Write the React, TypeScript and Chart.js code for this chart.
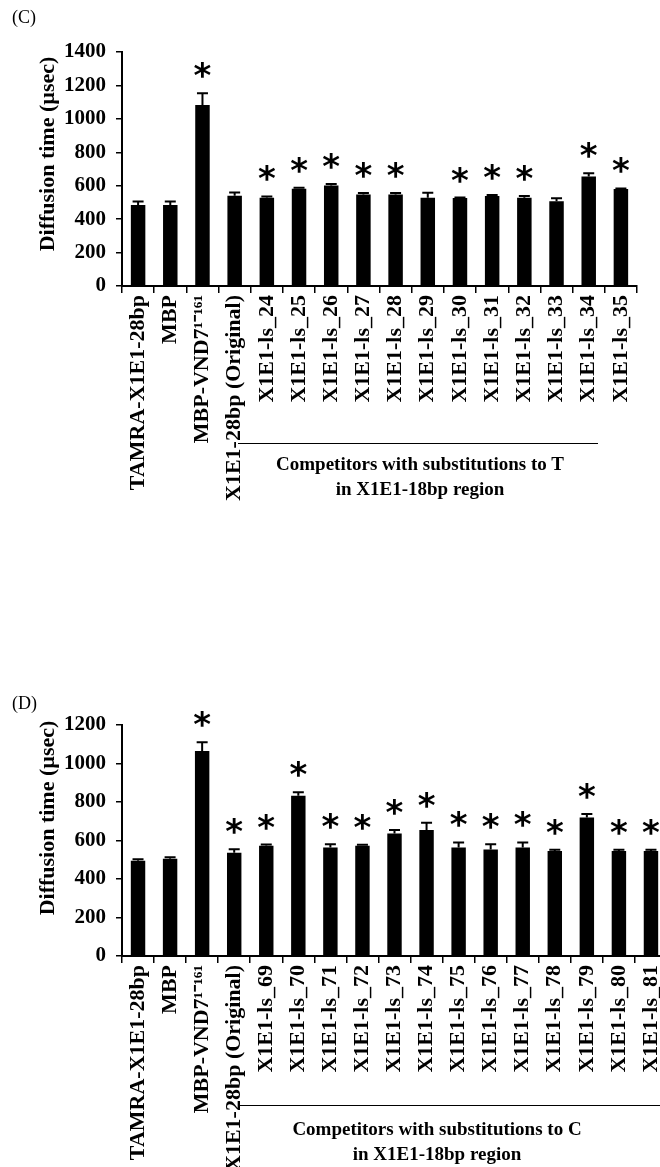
import React, { useEffect, useRef } from "react";
import { Chart, registerables } from "chart.js";

Chart.register(...registerables);

// ---------- Panel C data ----------
const categoriesC = [
  "TAMRA-X1E1-28bp",
  "MBP",
  "MBP-VND7¹⁻¹⁶¹",
  "X1E1-28bp (Original)",
  "X1E1-ls_24",
  "X1E1-ls_25",
  "X1E1-ls_26",
  "X1E1-ls_27",
  "X1E1-ls_28",
  "X1E1-ls_29",
  "X1E1-ls_30",
  "X1E1-ls_31",
  "X1E1-ls_32",
  "X1E1-ls_33",
  "X1E1-ls_34",
  "X1E1-ls_35",
];
const valuesC = [485, 485, 1083, 540, 528, 582, 602, 548, 548, 528, 526, 538, 528, 507, 655, 580];
const errorsC = [20, 20, 70, 20, 8, 6, 8, 8, 8, 30, 3, 7, 10, 18, 20, 4];
const starsC = [false, false, true, false, true, true, true, true, true, false, true, true, true, false, true, true];
const yMaxC = 1400;

// ---------- Panel D data ----------
const categoriesD = [
  "TAMRA-X1E1-28bp",
  "MBP",
  "MBP-VND7¹⁻¹⁶¹",
  "X1E1-28bp (Original)",
  "X1E1-ls_69",
  "X1E1-ls_70",
  "X1E1-ls_71",
  "X1E1-ls_72",
  "X1E1-ls_73",
  "X1E1-ls_74",
  "X1E1-ls_75",
  "X1E1-ls_76",
  "X1E1-ls_77",
  "X1E1-ls_78",
  "X1E1-ls_79",
  "X1E1-ls_80",
  "X1E1-ls_81",
];
const valuesD = [495, 505, 1065, 537, 573, 833, 563, 573, 637, 655, 563, 553, 563, 545, 720, 545, 545];
const errorsD = [8, 8, 45, 17, 6, 18, 17, 5, 18, 37, 27, 27, 27, 7, 18, 7, 7];
const starsD = [false, false, true, true, true, true, true, true, true, true, true, true, true, true, true, true, true];
const yMaxD = 1200;

const yStep = 200;
const yTitle = "Diffusion time (µsec)";
const groupTextC = ["Competitors with substitutions to T", "in X1E1-18bp region"];
const groupTextD = ["Competitors with substitutions to C", "in X1E1-18bp region"];

const SERIF = "'Liberation Serif', 'Times New Roman', serif";

type PanelProps = {
  labels: string[];
  values: number[];
  errors: number[];
  stars: boolean[];
  yMax: number;
  top: number;
  width: number;
  height: number;
  chartTop: number;
  chartBottom: number;
  chartRight: number;
  titleCenterY: number;
};

function BarPanel(p: PanelProps) {
  const ref = useRef<HTMLCanvasElement>(null);
  useEffect(() => {
    const canvas = ref.current!;
    const xAxisH = 222;
    const overlay = {
      id: "overlay",
      afterDatasetsDraw(chart: any) {
        const ctx = chart.ctx;
        const meta = chart.getDatasetMeta(0);
        const ys = chart.scales.y;
        ctx.save();
        ctx.strokeStyle = "#000";
        ctx.fillStyle = "#000";
        ctx.lineWidth = 2;
        p.values.forEach((v, i) => {
          const el = meta.data[i];
          const x = el.x;
          const yb = ys.getPixelForValue(v);
          const yt = ys.getPixelForValue(v + p.errors[i]);
          ctx.beginPath();
          ctx.moveTo(x, yb);
          ctx.lineTo(x, yt);
          ctx.moveTo(x - 5.5, yt);
          ctx.lineTo(x + 5.5, yt);
          ctx.stroke();
          if (p.stars[i]) {
            ctx.font = "bold 34px 'DejaVu Sans', sans-serif";
            ctx.textAlign = "center";
            ctx.textBaseline = "alphabetic";
            ctx.fillText("*", x, yt - 6);
          }
        });
        // y-axis title
        ctx.translate(48.5, p.titleCenterY);
        ctx.rotate(-Math.PI / 2);
        ctx.font = `bold 22px ${SERIF}`;
        ctx.textAlign = "center";
        ctx.textBaseline = "middle";
        ctx.fillText(yTitle, 0, 0);
        ctx.restore();
      },
    };
    const chart = new Chart(canvas, {
      type: "bar",
      data: {
        labels: p.labels,
        datasets: [
          {
            data: p.values,
            backgroundColor: "#000",
            borderWidth: 0,
            barPercentage: 0.45,
            categoryPercentage: 1,
          },
        ],
      },
      options: {
        responsive: false,
        animation: false,
        devicePixelRatio: 1,
        layout: {
          padding: {
            top: p.chartTop,
            left: 0,
            right: p.width - p.chartRight,
            bottom: p.height - p.chartBottom - xAxisH,
          },
        },
        plugins: {
          legend: { display: false },
          tooltip: { enabled: false },
          title: { display: false },
        },
        scales: {
          x: {
            grid: {
              display: true,
              drawOnChartArea: false,
              drawTicks: true,
              tickLength: 7,
              color: "#000",
              lineWidth: 1.5,
              offset: true,
            },
            border: { display: true, color: "#000", width: 2 },
            ticks: {
              autoSkip: false,
              maxRotation: 90,
              minRotation: 90,
              padding: 2,
              color: "#000",
              font: { family: SERIF, size: 22, weight: "bold" },
            },
            afterFit: (s: any) => {
              s.height = xAxisH;
            },
          },
          y: {
            min: 0,
            max: p.yMax,
            ticks: {
              stepSize: yStep,
              padding: 10,
              color: "#000",
              font: { family: SERIF, size: 21, weight: "bold" },
              callback: (v: any) => String(v),
            },
            grid: {
              drawOnChartArea: false,
              drawTicks: true,
              tickLength: 6,
              color: "#000",
              lineWidth: 1.5,
            },
            border: { display: true, color: "#000", width: 2 },
            afterFit: (s: any) => {
              s.width = 122;
            },
          },
        },
      } as any,
      plugins: [overlay],
    });
    return () => chart.destroy();
  }, []);
  return (
    <canvas
      ref={ref}
      width={p.width}
      height={p.height}
      style={{ position: "absolute", left: 0, top: p.top, width: p.width, height: p.height }}
    />
  );
}

const groupStyle = (top: number, cx: number): React.CSSProperties => ({
  position: "absolute",
  top,
  left: cx - 220,
  width: 440,
  textAlign: "center",
  fontFamily: SERIF,
  fontWeight: "bold",
  fontSize: 19,
  lineHeight: "25px",
  color: "#000",
  whiteSpace: "nowrap",
});

export default function App() {
  return (
    <div
      style={{
        position: "absolute",
        left: 0,
        top: 0,
        width: 660,
        height: 1167,
        overflow: "hidden",
        background: "#fff",
      }}
    >
      <BarPanel
        labels={categoriesC}
        values={valuesC}
        errors={errorsC}
        stars={starsC}
        yMax={yMaxC}
        top={0}
        width={660}
        height={530}
        chartTop={52}
        chartBottom={286}
        chartRight={637}
        titleCenterY={154}
      />
      <BarPanel
        labels={categoriesD}
        values={valuesD}
        errors={errorsD}
        stars={starsD}
        yMax={yMaxD}
        top={670}
        width={700}
        height={520}
        chartTop={55}
        chartBottom={286}
        chartRight={667}
        titleCenterY={148}
      />
      <div style={{ position: "absolute", left: 12, top: 8, fontFamily: SERIF, fontSize: 18, lineHeight: "18px" }}>(C)</div>
      <div style={{ position: "absolute", left: 12, top: 694, fontFamily: SERIF, fontSize: 18, lineHeight: "18px" }}>(D)</div>
      <div style={{ position: "absolute", left: 238, top: 442.5, width: 360, borderTop: "1.5px solid #000" }} />
      <div style={{ position: "absolute", left: 238, top: 1104.5, width: 440, borderTop: "1.5px solid #000" }} />
      <div style={groupStyle(450.5, 420)}>
        {groupTextC[0]}
        <br />
        {groupTextC[1]}
      </div>
      <div style={groupStyle(1115.5, 437)}>
        {groupTextD[0]}
        <br />
        {groupTextD[1]}
      </div>
    </div>
  );
}
